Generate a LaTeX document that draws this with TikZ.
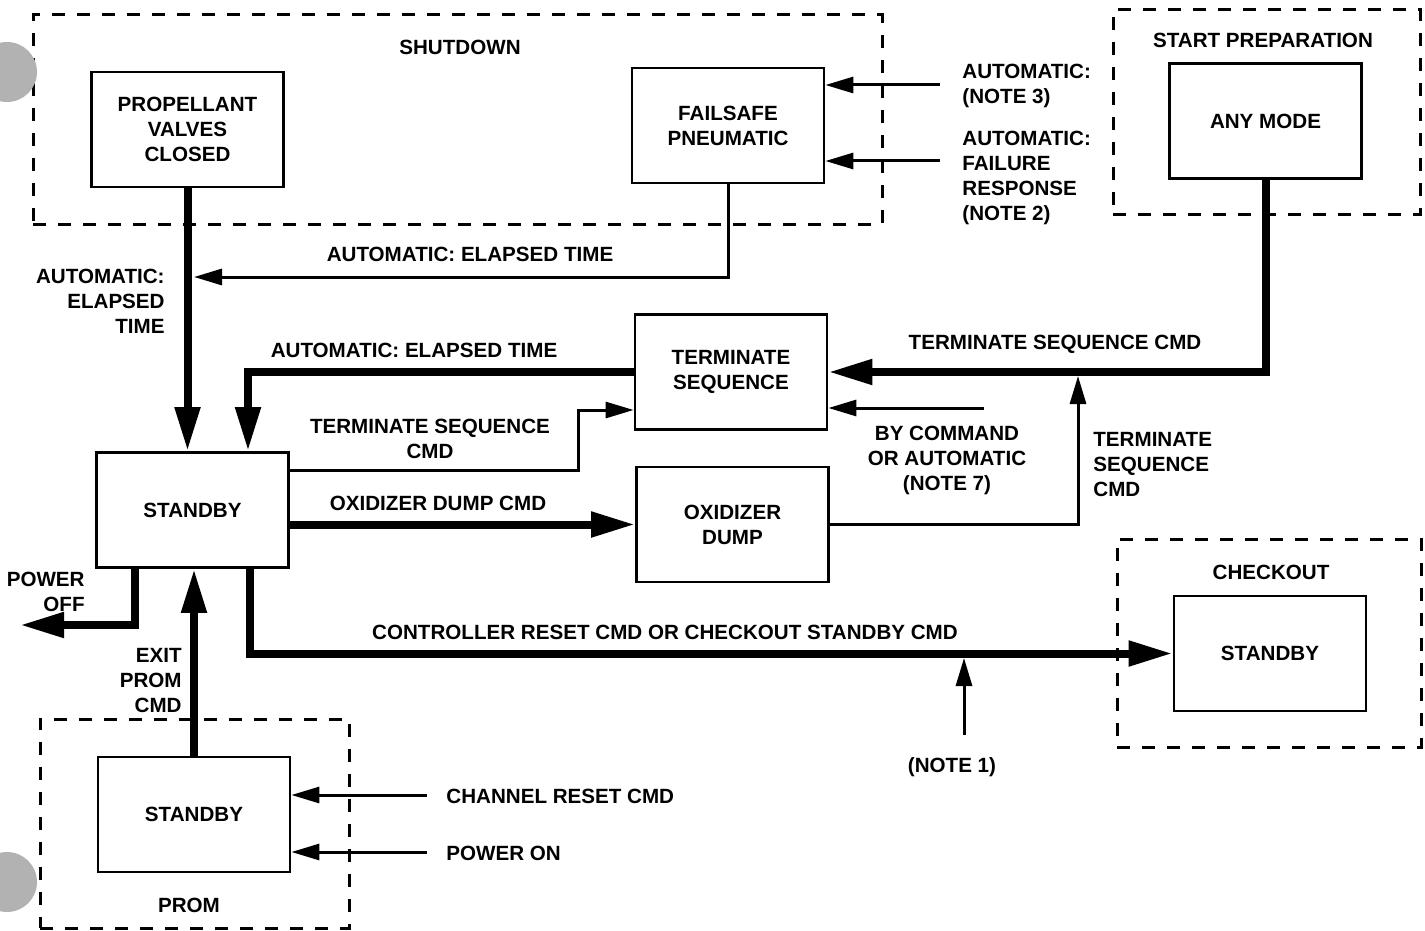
\documentclass[tikz,border=0pt]{standalone}
\usepackage{fontspec}
\setmainfont{Liberation Sans}
\usetikzlibrary{arrows.meta,positioning,calc}
\newcommand{\diagfont}{\fontsize{10.3}{12.5}\selectfont\bfseries}
\tikzset{
  modebox/.style={
    rectangle,
    draw=black,
    fill=white,
    line width=1.4pt,
    align=center,
    minimum width=96pt,
    minimum height=57.5pt,
    inner sep=2pt,
    font=\diagfont
  },
  groupbox/.style={
    rectangle,
    draw=black,
    line width=1.5pt,
    dash pattern=on 6.5pt off 6pt,
    inner sep=0pt
  },
  flowlabel/.style={
    align=center,
    inner sep=0pt,
    font=\diagfont
  },
  thinflow/.style={
    -{Triangle[length=14pt,width=8pt]},
    line width=1.5pt,
    draw=black
  },
  thickflow/.style={
    -{Triangle[length=22pt,width=12pt]},
    line width=4pt,
    draw=black
  },
  punchhole/.style={
    fill=gray!60
  }
}
\begin{document}
\begin{tikzpicture}[x=0.5pt,y=-0.5pt]
  \useasboundingbox (0,0) rectangle (1425,931);

  \node[groupbox,minimum width=424.5pt,minimum height=104.5pt] (shutdown) at (457.5,119.5) {};
  \node[groupbox,minimum width=153.5pt,minimum height=102pt] (startprep) at (1266.5,112) {};
  \node[groupbox,minimum width=152pt,minimum height=104pt] (checkout) at (1269,643) {};
  \node[groupbox,minimum width=154.5pt,minimum height=104.5pt] (prom) at (194.5,823.5) {};

  \node[flowlabel] (shutdowntitle) at (460,47) {SHUTDOWN};
  \node[flowlabel] (startpreptitle) at (1263,40) {START PREPARATION};
  \node[flowlabel] (checkouttitle) at (1271,572) {CHECKOUT};
  \node[flowlabel] (promtitle) at (189,905) {PROM};

  \node[modebox] (propellant) at (187.5,129.5) {PROPELLANT\\VALVES\\CLOSED};
  \node[modebox] (failsafe) at (728,125.5) {FAILSAFE\\PNEUMATIC};
  \node[modebox] (anymode) at (1265.5,121) {ANY MODE};
  \node[modebox] (terminate) at (731,372) {TERMINATE\\SEQUENCE};
  \node[modebox] (oxidizer) at (732.5,524.5) {OXIDIZER\\DUMP};
  \node[modebox] (standby) at (192.5,510) {STANDBY};
  \node[modebox] (chkstandby) at (1270,653.5) {STANDBY};
  \node[modebox] (promstandby) at (194,814.5) {STANDBY};

  \coordinate (note3) at (940,85);
  \coordinate (note2) at (940,161);
  \coordinate (failjoin) at (194,277);
  \coordinate (bycmd) at (984,408);
  \coordinate (termjoin) at (1078,376);
  \coordinate (poweroff) at (20,625);
  \coordinate (note1) at (964,735);
  \coordinate (chreset) at (427,795);
  \coordinate (poweron) at (427,852);

  \draw[thinflow] (note3) -- (note3 -| failsafe.east);
  \draw[thinflow] (note2) -- (note2 -| failsafe.east);
  \draw[thickflow] (propellant.south) -- (propellant.south |- standby.north);
  \draw[thinflow] (failsafe.south) |- (failjoin);
  \draw[thickflow] (anymode.south) |- (terminate.east);
  \draw[thinflow] (bycmd) -- (bycmd -| terminate.east);
  \draw[thinflow] (oxidizer.east) -| (termjoin);
  \draw[thickflow] (terminate.west) -| ($(standby.north)+(55.5,0)$);
  \draw[thinflow] ($(standby.east)+(0,-40)$) -- ++(289,0) |- ($(terminate.west)+(0,38)$);
  \draw[thickflow] (standby.east |- oxidizer.west) -- (oxidizer.west);
  % both thick exits leave the bottom edge of standby
  \draw[thickflow] ($(standby.south)+(-57.5,0)$) |- (poweroff);
  \draw[thickflow] ($(standby.south)+(57.5,0)$) |- (chkstandby.west);
  \draw[thinflow] (note1) -- ++(0,-77);
  \draw[thickflow] (promstandby.north) -- (promstandby.north |- standby.south);
  \draw[thinflow] (chreset) -- (chreset -| promstandby.east);
  \draw[thinflow] (poweron) -- (poweron -| promstandby.east);

  \node[flowlabel,anchor=west,align=left] (note3text) at (962,85.5) {AUTOMATIC:\\(NOTE 3)};
  \node[flowlabel,anchor=west,align=left] (note2text) at (962,178) {AUTOMATIC:\\FAILURE\\RESPONSE\\(NOTE 2)};
  \node[flowlabel,anchor=east,align=right] (elapsedleft) at (165,301) {AUTOMATIC:\\ELAPSED\\TIME};
  \node[flowlabel] (elapsedfail) at (470,254) {AUTOMATIC: ELAPSED TIME};
  \node[flowlabel] (elapsedterm) at (414,350) {AUTOMATIC: ELAPSED TIME};
  \node[flowlabel] (termcmdleft) at (430,439) {TERMINATE SEQUENCE\\CMD};
  \node[flowlabel] (oxcmd) at (438,503) {OXIDIZER DUMP CMD};
  \node[flowlabel] (termcmdtop) at (1055,344) {TERMINATE SEQUENCE CMD};
  \node[flowlabel] (bycmdtext) at (947,460) {BY COMMAND\\OR AUTOMATIC\\(NOTE 7)};
  \node[flowlabel,anchor=west,align=left] (termcmdright) at (1093,465) {TERMINATE\\SEQUENCE\\CMD};
  \node[flowlabel,anchor=east,align=right] (powerofftext) at (85,592) {POWER\\OFF};
  \node[flowlabel] (resetcmd) at (665,632) {CONTROLLER RESET CMD OR CHECKOUT STANDBY CMD};
  \node[flowlabel] (note1text) at (952,767) {(NOTE 1)};
  \node[flowlabel,anchor=east,align=right] (exitprom) at (182,681) {EXIT\\PROM\\CMD};
  \node[flowlabel,anchor=west] (chresettext) at (446,796) {CHANNEL RESET CMD};
  \node[flowlabel,anchor=west] (powerontext) at (446,853) {POWER ON};

  \fill[punchhole] (7,72) circle (30);
  \fill[punchhole] (7,882) circle (30);
\end{tikzpicture}
\end{document}
